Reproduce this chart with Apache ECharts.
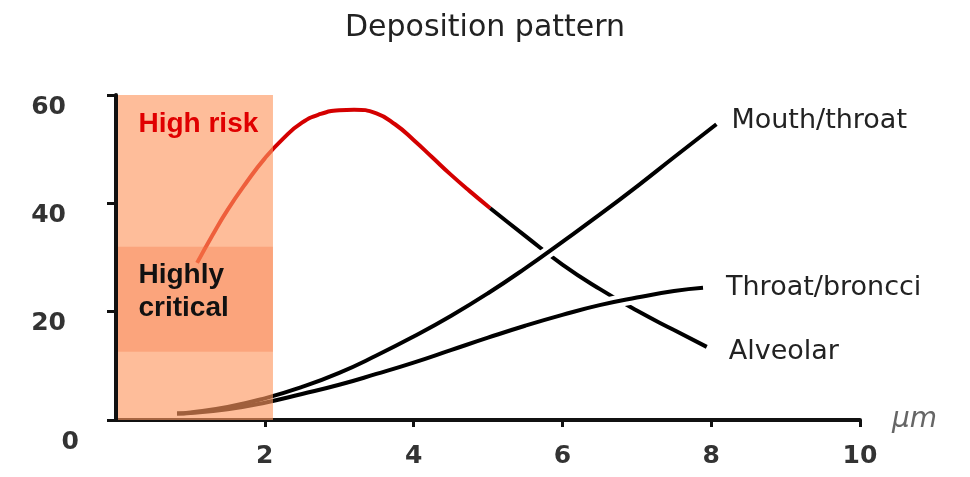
<!DOCTYPE html>
<html>
<head>
<meta charset="utf-8">
<script src="https://cdn.jsdelivr.net/npm/echarts@6/dist/echarts.min.js"></script>
<style>
  html, body { margin: 0; padding: 0; background: #fff; }
  #chart { width: 970px; height: 477px; }
</style>
</head>
<body>
<div id="chart"></div>
<script>
// particle size (µm) vs deposition (%)
var mouthThroat = [[0.82, 1.2], [1.0, 1.4], [1.5, 2.4], [2.0, 4.0], [2.5, 6.1], [3.0, 8.7], [3.5, 11.9],
    [4.0, 15.4], [4.5, 19.2], [5.0, 23.4], [5.5, 28.0], [6.0, 32.9], [6.5, 37.9], [7.0, 43.1],
    [7.5, 48.5], [8.07, 54.6]];
var throatBroncci = [[0.82, 1.2], [1.0, 1.3], [1.5, 2.0], [2.0, 3.2], [2.5, 4.8], [3.0, 6.5], [3.5, 8.5],
    [4.0, 10.6], [4.5, 12.9], [5.0, 15.2], [5.5, 17.4], [6.0, 19.4], [6.5, 21.2], [7.0, 22.6],
    [7.5, 23.8], [7.89, 24.4]];
var alveolar = [[1.09, 29.0], [1.3, 34.2], [1.5, 38.8], [1.75, 43.8], [2.0, 48.3], [2.25, 52.0], [2.5, 54.9],
    [2.75, 56.5], [3.0, 57.2], [3.2, 57.3], [3.5, 56.6], [3.75, 54.6], [4.0, 51.7], [4.25, 48.5],
    [4.5, 45.3], [4.75, 42.3], [5.03, 39.1], [5.5, 34.0], [6.0, 28.7], [6.5, 24.2], [7.0, 20.2],
    [7.5, 16.6], [7.94, 13.5]];
var seriesNames = ['Mouth/throat', 'Throat/broncci', 'Alveolar'];
var redUntil = 5.03;
// shaded zones: [x0, y0, x1, y1]
var riskZone = [0.02, 61.3, 2.11, -1.85];
var criticalZone = [0.02, 32.0, 2.11, 12.6];
var zoneLabels = ['High risk', 'Highly critical'];
var xTicks = { min: 0, max: 10, interval: 2 };
var yTicks = { min: 0, max: 60, interval: 20 };

var alveolarRed = alveolar.filter(function (p) { return p[0] <= redUntil; });
var alveolarBlack = alveolar.filter(function (p) { return p[0] >= redUntil; });
// white halo where the rising curves pass over the alveolar one
var mouthHalo = mouthThroat.filter(function (p) { return p[0] >= 5; });
var throatHalo = throatBroncci.filter(function (p) { return p[0] >= 6; });

var chart = echarts.init(document.getElementById('chart'));

var endLabel = function (dist, dy) {
    return {
        show: true, formatter: '{a}', distance: dist, offset: [0, dy],
        fontFamily: 'DejaVu Sans', fontSize: 27, color: '#222'
    };
};
var line = function (name, data, color, width, z, label) {
    return {
        name: name, type: 'line', data: data, smooth: 0.5, showSymbol: false, z: z,
        silent: true, lineStyle: { color: color, width: width }, endLabel: label
    };
};

var option = {
    animation: false,
    title: {
        text: 'Deposition pattern',
        left: 'center', top: 8,
        textStyle: { fontFamily: 'DejaVu Sans', fontSize: 30, fontWeight: 'normal', color: '#222' }
    },
    grid: { left: 116, right: 110, top: 95, bottom: 57 },
    xAxis: {
        type: 'value', min: xTicks.min, max: xTicks.max, interval: xTicks.interval,
        name: 'μm', nameLocation: 'end', nameGap: 32,
        nameTextStyle: { fontFamily: 'DejaVu Sans', fontStyle: 'italic', fontSize: 28, color: '#666', padding: [26, 0, 0, 0] },
        axisLine: { lineStyle: { color: '#111', width: 4 } },
        axisTick: { show: true, length: 7, lineStyle: { color: '#111', width: 3 } },
        axisLabel: {
            showMinLabel: false, margin: 24,
            fontFamily: 'DejaVu Sans', fontWeight: 'bold', fontSize: 25, color: '#333'
        },
        splitLine: { show: false }
    },
    yAxis: {
        type: 'value', min: yTicks.min, max: yTicks.max, interval: yTicks.interval, z: 10,
        axisLine: { show: true, lineStyle: { color: '#111', width: 4 } },
        axisTick: { show: true, length: 9, lineStyle: { color: '#111', width: 3 } },
        axisLabel: {
            margin: 30, align: 'right',
            formatter: function (v) { return v === 0 ? '{z|0}' : '{n|' + v + '}'; },
            rich: {
                n: { fontFamily: 'DejaVu Sans', fontWeight: 'bold', fontSize: 25, color: '#333', padding: [24, 20, 0, 0] },
                z: { fontFamily: 'DejaVu Sans', fontWeight: 'bold', fontSize: 25, color: '#333', padding: [44, 7, 0, 0] }
            }
        },
        splitLine: { show: false }
    },
    series: [
        line(seriesNames[2], alveolarRed, '#d40000', 4, 2),
        line(seriesNames[2], alveolarBlack, '#000', 4, 2, endLabel(22, 5)),
        line('', mouthHalo, '#fff', 12, 3),
        line('', throatHalo, '#fff', 12, 3),
        line(seriesNames[0], mouthThroat, '#000', 4, 4, endLabel(15, -3)),
        line(seriesNames[1], throatBroncci, '#000', 4, 4, endLabel(23, 0)),
        {
            type: 'line', data: [[0, 0]], symbol: 'none', z: 5, clip: false, silent: true,
            lineStyle: { opacity: 0 },
            markArea: {
                silent: true, z: 5,
                data: [[{
                    xAxis: riskZone[0], yAxis: riskZone[1],
                    itemStyle: { color: 'rgba(254,151,95,0.63)' },
                    label: {
                        show: true, formatter: zoneLabels[0], position: [21, 29],
                        align: 'left', verticalAlign: 'middle',
                        fontFamily: 'Liberation Sans', fontWeight: 'bold', fontSize: 28, color: '#e00000'
                    }
                }, { xAxis: riskZone[2], yAxis: riskZone[3] }], [{
                    xAxis: criticalZone[0], yAxis: criticalZone[1],
                    itemStyle: { color: 'rgba(245,120,70,0.35)' },
                    label: {
                        show: true, formatter: zoneLabels[1].replace(' ', '\n'), position: [21, 45],
                        align: 'left', verticalAlign: 'middle', lineHeight: 33,
                        fontFamily: 'Liberation Sans', fontWeight: 'bold', fontSize: 28, color: '#111'
                    }
                }, { xAxis: criticalZone[2], yAxis: criticalZone[3] }]]
            }
        }
    ]
};

chart.setOption(option);
</script>
</body>
</html>
